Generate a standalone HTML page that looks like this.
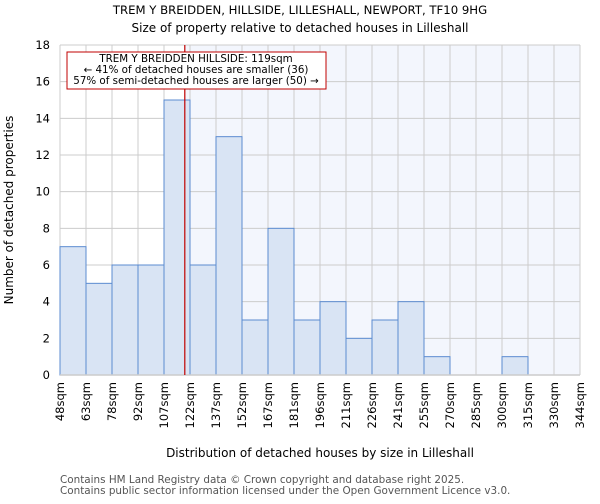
<!DOCTYPE html>
<html><head><meta charset="utf-8"><style>
body{margin:0;background:#fff;font-family:"DejaVu Sans","Liberation Sans",sans-serif}
svg text{font-family:"DejaVu Sans","Liberation Sans",sans-serif}
</style></head><body>
<svg id="chart" width="600" height="500" xmlns="http://www.w3.org/2000/svg">
<text x="300" y="14" text-anchor="middle" font-size="11.7">TREM Y BREIDDEN, HILLSIDE, LILLESHALL, NEWPORT, TF10 9HG</text>
<text x="300" y="32" text-anchor="middle" font-size="12">Size of property relative to detached houses in Lilleshall</text>
<rect x="60" y="45" width="520" height="330" fill="#fff"/>
<rect id="hl" y="45" height="330" fill="#f3f6fd"/>
<g id="grid"></g><g id="bars"></g><g id="axes"></g>
<text transform="translate(13,210) rotate(-90)" text-anchor="middle" font-size="12">Number of detached properties</text>
<text x="320" y="457" text-anchor="middle" font-size="12">Distribution of detached houses by size in Lilleshall</text>
<g>
<rect x="67" y="52" width="259" height="37" fill="#fff" stroke="#c00000" stroke-width="1"/>
<text x="196" y="62" text-anchor="middle" font-size="10.3">TREM Y BREIDDEN HILLSIDE: 119sqm</text>
<text x="196" y="73" text-anchor="middle" font-size="10.3">← 41% of detached houses are smaller (36)</text>
<text x="196" y="84" text-anchor="middle" font-size="10.3">57% of semi-detached houses are larger (50) →</text>
</g>
<text x="60" y="483" font-size="10.4" fill="#555">Contains HM Land Registry data © Crown copyright and database right 2025.</text>
<text x="60" y="494" font-size="10.4" fill="#555">Contains public sector information licensed under the Open Government Licence v3.0.</text>
</svg>
<script>
const binLabels=["48sqm","63sqm","78sqm","92sqm","107sqm","122sqm","137sqm","152sqm","167sqm","181sqm","196sqm","211sqm","226sqm","241sqm","255sqm","270sqm","285sqm","300sqm","315sqm","330sqm","344sqm"];
const binStarts=[48,63,78,92,107,122,137,152,167,181,196,211,226,241,255,270,285,300,315,330,344];
const counts=[7,5,6,6,15,6,13,3,8,3,4,2,3,4,1,0,0,1,0,0];
const yTicks=[0,2,4,6,8,10,12,14,16,18];
const propertySize=119;
const NS="http://www.w3.org/2000/svg";
const X0=60,X1=580,Y0=375,Y1=45,YMAX=18;
const bw=(X1-X0)/counts.length;
const xb=i=>X0+i*bw;
const y=v=>Y0-(v/YMAX)*(Y0-Y1);
function xv(v){for(let i=0;i<binStarts.length-1;i++){if(v>=binStarts[i]&&v<=binStarts[i+1])return xb(i)+bw*(v-binStarts[i])/(binStarts[i+1]-binStarts[i]);}return X1;}
function mk(t,a,p){const e=document.createElementNS(NS,t);for(const k in a)e.setAttribute(k,a[k]);p.appendChild(e);return e;}
const grid=document.getElementById('grid'),bars=document.getElementById('bars'),axes=document.getElementById('axes');
const px=xv(propertySize);
const hl=document.getElementById('hl');hl.setAttribute('x',px);hl.setAttribute('width',X1-px);
yTicks.forEach(t=>{
 const l=mk('line',{x1:X0,x2:X1,y1:y(t),y2:y(t),stroke:'#ccc'},grid);
 
 
 const tx=mk('text',{x:50,y:y(t)+4,'text-anchor':'end','font-size':'11.5'},axes);tx.textContent=t;
 
 
});
binLabels.forEach((lb,i)=>{
 const l=mk('line',{x1:xb(i),x2:xb(i),y1:Y1,y2:Y0,stroke:'#ccc'},grid);
 
 
 const tx=mk('text',{transform:`translate(${xb(i)+4},382) rotate(-90)`,'text-anchor':'end','font-size':'11.5'},axes);tx.textContent=lb;
 
 
});
counts.forEach((c,i)=>{
 if(c<=0)return;
 const r=mk('rect',{x:xb(i),y:y(c),width:bw,height:Y0-y(c),fill:'#d9e4f4',stroke:'#5b8bd0','stroke-width':1},bars);
 
 
});
const ax=mk('line',{x1:X0,x2:X1,y1:Y0,y2:Y0,stroke:'#ccc','stroke-width':1.5},axes);


const ml=mk('line',{x1:px,x2:px,y1:Y1,y2:Y0,stroke:'#c00000','stroke-width':1.2},axes);


</script>
</body></html>
